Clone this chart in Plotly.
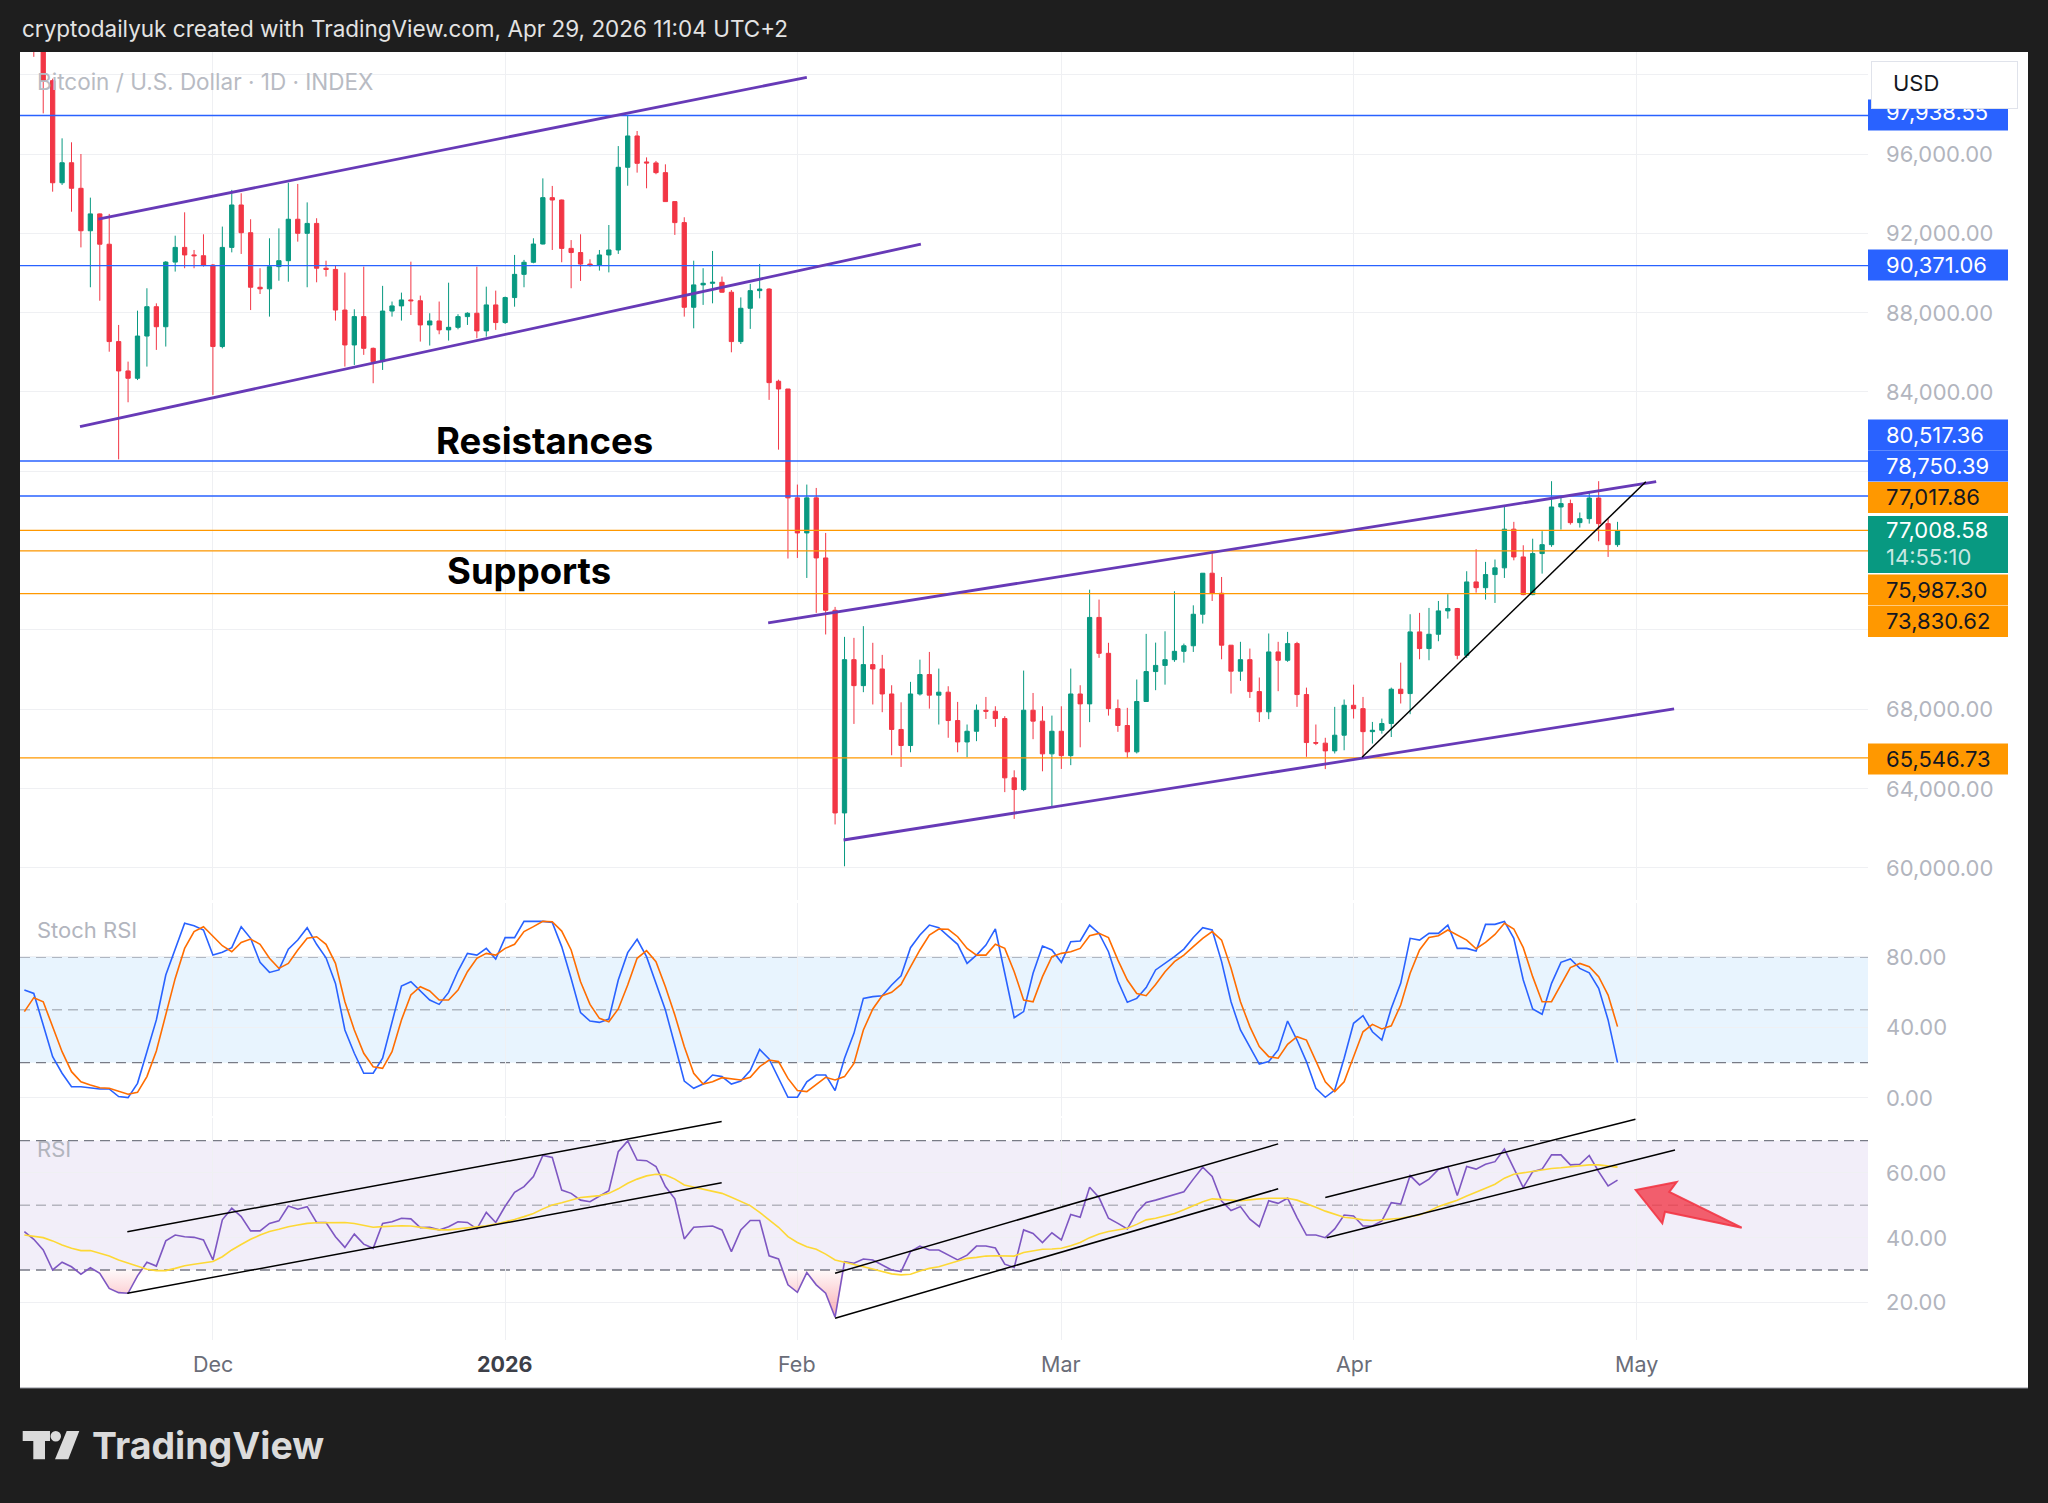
import numpy as np
import pandas as pd
import plotly.graph_objects as go

W, H = 2048, 1503

# ---------------- data ----------------
dates = pd.date_range("2025-11-11", "2026-04-29", freq="D")

opens = [105300, 103000, 101600, 99700, 94550, 95560, 94270, 92130, 92980, 91450,
         86540, 85060, 84690, 86820, 88300, 87290, 90550, 91290, 90910, 90870,
         90400, 86290, 91290, 93430, 92030, 89280, 89200, 90320, 90620, 92710,
         92000, 92500, 90240, 90180, 88130, 86370, 87800, 86200, 85530, 88080,
         88340, 88640, 88600, 87380, 87580, 87130, 87260, 87800, 87970, 87080,
         88390, 87500, 88760, 89930, 90540, 91460, 93800, 93680, 91240, 91030,
         90450, 90400, 90910, 91160, 95330, 96910, 95600, 95550, 95060, 93600,
         92540, 88270, 89400, 89480, 89530, 89030, 86540, 88220, 89110, 89190,
         84540, 84150, 78660, 76890, 78660, 75630, 72990, 62770, 70500, 69190,
         70250, 70030, 68770, 66980, 66170, 68770, 69750, 68710, 68860, 67430,
         66350, 66890, 67950, 67900, 67530, 64540, 63950, 67950, 67400, 65750,
         66890, 65660, 68770, 68270, 72630, 70820, 68030, 67180, 65850, 68390,
         69900, 70210, 70500, 70920, 71200, 72790, 74860, 73850, 71230, 69920,
         70500, 68890, 67870, 70890, 70470, 71310, 68740, 66320, 66290, 65900,
         66690, 68200, 68030, 66870, 66940, 67280, 69010, 68790, 71900, 71060,
         71780, 72960, 73080, 70720, 74420, 74130, 74790, 75130, 77080, 75680,
         73780, 75850, 76300, 78200, 78370, 77410, 77610, 78650, 77360, 76300]

highs = [106600, 105300, 104000, 99800, 96790, 96590, 96000, 93800, 93000, 92980,
         87380, 85530, 88100, 89230, 88470, 90600, 91880, 93060, 91160, 91950,
         90450, 92340, 94190, 94020, 92710, 90240, 91750, 92250, 94550, 94490,
         93560, 92760, 90620, 90400, 90020, 88170, 90320, 86240, 89350, 88560,
         89010, 90570, 88860, 87970, 88560, 89510, 87920, 88020, 90320, 89310,
         89110, 88810, 90910, 90660, 91750, 94770, 94390, 93700, 91660, 91950,
         90690, 91160, 92420, 96400, 97970, 97160, 95830, 95650, 95480, 93600,
         92810, 90620, 90240, 91110, 89820, 89140, 88770, 89450, 90450, 89230,
         84620, 84150, 79330, 79330, 79160, 76890, 73160, 71650, 71600, 72190,
         71350, 70740, 69210, 68350, 69380, 70500, 70890, 70050, 69160, 68370,
         67230, 68240, 68620, 68150, 67650, 64920, 69950, 68820, 68150, 67680,
         68150, 70050, 69210, 74030, 73530, 71350, 68490, 68070, 69500, 71800,
         71360, 71930, 73950, 71310, 73240, 74870, 75930, 74670, 71230, 71400,
         71060, 69600, 71820, 71400, 71900, 71400, 69090, 67230, 66560, 68120,
         68490, 69240, 68620, 67360, 67530, 69090, 70350, 72790, 72860, 73110,
         73460, 73800, 73110, 74960, 76070, 75430, 75550, 78250, 77450, 76270,
         76600, 76980, 79500, 78710, 78570, 77920, 78960, 79500, 77610, 77450]

lows = [102500, 100900, 98050, 94100, 94440, 93090, 91290, 89280, 88600, 86030,
        80600, 83480, 84600, 85280, 86120, 86290, 90070, 90240, 90240, 90320,
        83850, 86200, 91040, 90960, 88130, 88940, 87800, 89610, 89560, 91580,
        89280, 89530, 89820, 87600, 85280, 85360, 85870, 84440, 85110, 87800,
        87600, 87880, 86540, 86340, 86910, 86590, 87160, 87380, 86710, 86790,
        87130, 87430, 88300, 89280, 90490, 91440, 91160, 90540, 89230, 89600,
        90320, 90120, 90030, 90960, 94400, 95060, 94270, 94980, 93600, 91920,
        87800, 87210, 88390, 88470, 89010, 86000, 86420, 87180, 88720, 83600,
        81090, 75600, 75630, 74620, 72860, 71770, 62190, 60080, 67260, 68860,
        68240, 67850, 65680, 65090, 65830, 68690, 68030, 67230, 66560, 65830,
        65580, 66390, 67510, 67110, 63820, 62470, 63870, 66490, 64870, 63110,
        64990, 65180, 66080, 67350, 70590, 67680, 66860, 65550, 65770, 68370,
        68960, 69240, 70390, 70350, 70890, 72320, 73460, 70520, 68790, 69430,
        68570, 67360, 67500, 68910, 70390, 68120, 65600, 66190, 64980, 65770,
        65930, 67530, 65600, 66270, 66770, 66600, 68290, 67750, 70520, 70470,
        71430, 72570, 70520, 70590, 73880, 73530, 73360, 74620, 75510, 73750,
        73750, 74840, 76190, 77060, 77310, 77160, 77360, 76470, 75680, 76190]

closes = [103000, 101600, 99700, 94550, 95560, 94270, 92130, 92980, 91450, 86540,
          85060, 84690, 86820, 88300, 87290, 90550, 91290, 90910, 90870, 90400,
          86290, 91290, 93430, 92030, 89280, 89200, 90320, 90620, 92710, 92000,
          92500, 90240, 90180, 88130, 86370, 87800, 86200, 85530, 88080, 88340,
          88640, 88600, 87380, 87580, 87130, 87260, 87800, 87970, 87080, 88390,
          87500, 88760, 89930, 90540, 91460, 93800, 93680, 91240, 91030, 90450,
          90400, 90910, 91160, 95330, 96910, 95530, 95550, 95060, 93600, 92540,
          88270, 89400, 89480, 89530, 89030, 86540, 88220, 89110, 89190, 84470,
          84150, 78660, 76890, 78660, 75630, 72990, 62770, 70500, 69190, 70250,
          70030, 68770, 66980, 66170, 68770, 69750, 68710, 68860, 67430, 66350,
          66890, 67950, 67900, 67530, 64540, 63950, 67950, 67400, 65750, 66890,
          65660, 68770, 68270, 72630, 70820, 68030, 67180, 65850, 68390, 69900,
          70210, 70500, 70920, 71200, 72790, 74860, 73850, 71230, 69920, 70500,
          68890, 67870, 70890, 70470, 71310, 68740, 66320, 66290, 65900, 66690,
          68200, 68030, 66870, 66940, 67280, 69010, 68790, 71900, 71060, 71780,
          72960, 73080, 70720, 74420, 74130, 74790, 75130, 77080, 75680, 73780,
          75850, 76300, 78200, 78370, 77410, 77610, 78650, 77360, 76300, 77008.58]

stoch_k = [61.1, 59.2, 41.3, 23.4, 14.0, 6.4, 6.4, 5.8, 5.1, 5.1,
           0.8, 0.2, 8.3, 26.2, 44.2, 69.6, 84.7, 98.9, 97.5, 95.1,
           80.9, 82.5, 85.1, 97.0, 90.4, 76.8, 71.1, 72.5, 84.3, 89.4,
           96.4, 87.0, 79.4, 64.9, 38.5, 25.3, 14.0, 14.0, 22.5, 42.8,
           63.4, 65.8, 60.6, 55.5, 53.0, 59.8, 71.9, 81.9, 80.9, 84.7,
           78.7, 90.8, 90.8, 100, 100, 100, 99.4, 85.7, 67.7, 48.3,
           43.6, 42.8, 44.7, 66.8, 82.3, 89.8, 80.0, 64.9, 49.8, 30.0,
           9.6, 5.5, 7.9, 13.0, 12.1, 7.9, 9.6, 15.5, 27.5, 22.1,
           11.7, 0.4, 0.4, 9.2, 13.0, 13.0, 4.2, 22.5, 36.6, 56.4,
           57.4, 57.9, 64.0, 69.2, 85.1, 92.3, 97.9, 96.4, 91.7, 87.0,
           76.2, 80.9, 86.6, 95.7, 70.6, 45.5, 48.9, 70.6, 86.0, 83.8,
           76.8, 88.5, 88.9, 97.9, 93.2, 82.8, 66.2, 54.2, 56.4, 62.5,
           72.5, 76.2, 80.0, 84.3, 90.9, 96.4, 95.1, 77.2, 54.5, 38.5,
           28.7, 19.2, 20.6, 27.2, 43.6, 32.8, 20.6, 5.5, 0.4, 4.5,
           22.5, 42.3, 46.6, 37.5, 32.8, 50.8, 64.9, 90.4, 89.4, 93.2,
           93.2, 97.9, 84.7, 84.7, 83.2, 98.3, 98.3, 100, 90.4, 66.8,
           50.4, 47.4, 64.9, 76.8, 78.7, 73.4, 70.9, 62.1, 44.2, 20.0]

stoch_d = [48.9, 56.8, 54.5, 40.4, 26.2, 14.9, 9.2, 7.4, 5.8, 5.5,
           4.0, 2.1, 3.2, 12.1, 26.6, 47.0, 67.7, 84.7, 94.2, 97.0,
           91.3, 86.2, 82.8, 88.1, 90.0, 87.0, 79.1, 73.4, 76.2, 83.8,
           90.4, 91.3, 87.0, 76.2, 54.5, 38.5, 25.3, 17.7, 16.8, 26.2,
           44.2, 58.3, 63.0, 60.6, 55.5, 55.5, 61.1, 71.5, 79.1, 81.9,
           80.9, 84.7, 87.0, 94.2, 97.0, 100, 99.8, 94.5, 83.8, 65.8,
           53.0, 45.1, 43.2, 50.4, 64.0, 79.1, 83.4, 77.2, 63.0, 47.0,
           29.1, 14.0, 7.9, 9.2, 11.5, 10.8, 10.2, 11.7, 17.7, 21.5,
           20.6, 11.1, 4.2, 3.6, 7.4, 11.7, 10.2, 12.1, 19.6, 38.5,
           50.4, 57.9, 59.8, 64.3, 74.3, 83.8, 92.3, 95.7, 95.5, 91.3,
           84.7, 80.9, 80.9, 87.0, 84.7, 71.5, 55.5, 54.5, 68.7, 80.0,
           81.9, 82.8, 84.7, 91.9, 93.2, 90.8, 78.1, 66.8, 59.2, 57.9,
           64.3, 71.5, 77.2, 80.9, 85.7, 90.4, 94.2, 89.4, 73.4, 54.5,
           40.4, 29.1, 23.4, 22.5, 30.4, 34.7, 32.8, 20.6, 9.2, 3.6,
           9.2, 23.4, 37.5, 41.7, 39.1, 40.9, 52.6, 70.6, 83.8, 90.9,
           91.9, 95.1, 92.3, 89.4, 84.5, 88.1, 92.6, 98.9, 95.7, 85.1,
           68.7, 54.5, 54.5, 64.0, 73.8, 76.2, 74.3, 68.7, 58.3, 40.4]

rsi = [41.9, 39.5, 36.2, 30.0, 32.4, 31.0, 28.7, 30.7, 29.0, 24.3,
       23.0, 22.8, 28.2, 32.4, 31.2, 39.0, 40.8, 40.3, 40.1, 39.3,
       33.1, 45.5, 49.1, 46.5, 42.1, 42.1, 44.4, 45.2, 49.8, 48.8,
       49.6, 44.7, 44.7, 40.3, 37.0, 41.1, 38.0, 36.7, 44.4, 44.9,
       46.0, 45.8, 43.1, 43.2, 42.4, 43.4, 44.9, 44.7, 42.7, 47.8,
       44.7, 49.7, 54.0, 55.8, 58.9, 65.4, 64.8, 54.7, 53.7, 51.6,
       51.1, 52.9, 54.5, 66.6, 69.9, 64.0, 63.8, 62.0, 55.8, 52.0,
       39.6, 43.2, 43.4, 43.6, 42.4, 35.7, 42.4, 45.3, 45.3, 34.4,
       33.4, 25.4, 23.1, 29.2, 25.4, 22.8, 15.4, 32.6, 32.1, 33.4,
       33.1, 31.5, 30.0, 29.5, 35.7, 37.4, 36.2, 36.2, 34.6, 33.1,
       34.6, 37.4, 37.4, 36.8, 31.8, 30.8, 42.4, 41.3, 38.5, 41.5,
       39.3, 47.2, 46.3, 55.6, 52.4, 46.0, 44.4, 42.7, 47.8, 50.9,
       51.6, 52.4, 53.4, 54.2, 58.1, 61.8, 58.9, 51.3, 48.4, 49.6,
       45.7, 43.4, 51.4, 50.6, 52.2, 46.2, 40.8, 40.8, 40.0, 42.7,
       47.0, 46.7, 43.6, 43.6, 45.2, 50.8, 50.4, 59.2, 56.3, 58.1,
       61.1, 62.0, 53.0, 62.0, 61.2, 62.7, 63.5, 67.4, 61.4, 55.5,
       60.4, 61.2, 65.6, 65.6, 62.5, 62.7, 65.4, 60.4, 56.0, 57.8]

rsi_ma = [40.8, 40.3, 40.0, 39.0, 37.7, 36.7, 36.0, 36.0, 35.2, 34.3,
          33.1, 32.1, 31.0, 30.2, 29.8, 29.8, 30.5, 31.3, 31.8, 32.3,
          32.6, 34.1, 36.2, 37.9, 39.5, 40.8, 41.9, 42.6, 43.4, 43.9,
          44.4, 44.6, 44.6, 44.7, 44.7, 44.4, 43.7, 43.2, 43.4, 43.6,
          43.7, 43.6, 43.2, 42.9, 42.4, 42.4, 42.7, 42.9, 43.2, 43.7,
          44.2, 44.8, 45.6, 46.5, 47.5, 48.9, 50.1, 50.8, 51.6, 52.4,
          52.7, 53.0, 53.7, 55.1, 56.8, 58.1, 59.1, 59.6, 59.4, 58.1,
          56.3, 55.6, 55.1, 54.4, 53.7, 52.5, 51.3, 49.9, 47.8, 45.5,
          43.2, 40.3, 38.5, 37.2, 36.4, 34.9, 33.1, 32.4, 31.8, 31.0,
          30.3, 29.5, 28.8, 28.5, 28.7, 29.7, 30.5, 31.0, 31.8, 32.6,
          33.6, 33.9, 34.3, 34.4, 34.4, 34.3, 35.4, 36.0, 36.4, 36.5,
          36.7, 37.5, 38.5, 40.0, 41.1, 41.9, 42.4, 42.9, 44.1, 45.5,
          46.0, 46.8, 47.5, 48.6, 49.9, 51.1, 52.0, 51.9, 51.6, 51.4,
          51.8, 52.0, 52.2, 52.2, 52.2, 51.6, 50.6, 49.4, 48.2, 47.2,
          46.3, 46.0, 45.5, 45.3, 45.5, 45.8, 46.0, 46.5, 47.0, 48.2,
          49.6, 50.6, 51.6, 52.9, 54.2, 55.3, 56.5, 58.4, 59.6, 60.1,
          60.6, 60.9, 61.4, 61.6, 61.9, 62.0, 62.5, 62.5, 62.2, 61.8]

blue_levels = [97938.55, 90371.06, 80517.36, 78750.39]
orange_levels = [77017.86, 75987.30, 73830.62, 65546.73]
last_price = 77008.58
countdown = "14:55:10"

price_ticks = [60000, 64000, 68000, 72000, 76000, 80000, 84000, 88000, 92000, 96000, 100000]
# labels that the colored price tags do not cover
price_tick_labels = [60000, 64000, 68000, 84000, 88000, 92000, 96000]
stoch_ticks = [0, 40, 80]
rsi_ticks = [20, 40, 60]
month_ticks = ["2025-12-01", "2026-01-01", "2026-02-01", "2026-03-01", "2026-04-01", "2026-05-01"]
month_labels = ["Dec", "2026", "Feb", "Mar", "Apr", "May"]

# drawings (anchor points in chart coordinates)
purple_channels = [
    ("2025-11-18 20:10", 92722, "2026-02-02 00:00", 99870),
    ("2025-11-16 21:36", 82248, "2026-02-14 02:24", 91451),
    ("2026-01-28 21:36", 72350, "2026-05-03 02:24", 79475),
    ("2026-02-05 21:36", 61406, "2026-05-05 00:00", 68013),
]
black_trend = [("2026-04-01 21:36", 65577, "2026-05-02 00:00", 79475)]
rsi_trends = [
    ("2025-11-21 22:05", 41.85, "2026-01-23 23:17", 75.9),
    ("2025-11-21 22:05", 22.8, "2026-01-23 23:17", 57.0),
    ("2026-02-05 00:00", 29.0, "2026-03-24 00:00", 69.0),
    ("2026-02-05 00:00", 15.1, "2026-03-24 00:00", 55.1),
    ("2026-03-29 00:00", 52.4, "2026-04-30 21:36", 76.6),
    ("2026-03-29 03:36", 40.0, "2026-05-05 02:24", 67.1),
]

# ---------------- styling / layout helpers ----------------
UP, DN = "#089981", "#f23645"
BLUE, ORANGE, GREEN = "#2962ff", "#ff9800", "#089981"
GRID = "#eff0f3"
TICK = "#b2b5be"
FONT = "Inter"
LS = 22  # price-scale font size


def px(x):
    return x / W


def py(y):
    return 1 - y / H


def path(points):
    s = "M " + " L ".join(f"{px(x):.5f},{py(y):.5f}" for x, y in points)
    return s + " Z"


X0, X1 = px(20), px(1868)
x_range = ["2025-11-10 12:52", "2026-05-25 13:41"]

fig = go.Figure()

fig.add_trace(go.Candlestick(
    x=dates, open=opens, high=highs, low=lows, close=closes,
    increasing=dict(line=dict(color=UP, width=1), fillcolor=UP),
    decreasing=dict(line=dict(color=DN, width=1), fillcolor=DN),
    whiskerwidth=0, xaxis="x", yaxis="y", showlegend=False, hoverinfo="skip"))

fig.add_trace(go.Scatter(x=dates, y=stoch_k, mode="lines", line=dict(color="#2962ff", width=1.6),
                         xaxis="x2", yaxis="y2", hoverinfo="skip"))
fig.add_trace(go.Scatter(x=dates, y=stoch_d, mode="lines", line=dict(color="#ff6d00", width=1.6),
                         xaxis="x2", yaxis="y2", hoverinfo="skip"))

rsi_arr = np.array(rsi, dtype=float)
fig.add_trace(go.Scatter(x=dates, y=np.full(len(rsi_arr), 30.0), mode="lines",
                         line=dict(width=0, color="rgba(0,0,0,0)"), xaxis="x3", yaxis="y3", hoverinfo="skip"))
fig.add_trace(go.Scatter(x=dates, y=np.minimum(rsi_arr, 30.0), mode="lines",
                         line=dict(width=0, color="rgba(0,0,0,0)"), fill="tonexty",
                         fillgradient=dict(type="vertical", start=14, stop=30,
                                           colorscale=[[0, "rgba(242,54,69,0.45)"], [1, "rgba(242,54,69,0.03)"]]),
                         xaxis="x3", yaxis="y3", hoverinfo="skip"))
fig.add_trace(go.Scatter(x=dates, y=rsi, mode="lines", line=dict(color="#7e57c2", width=1.6),
                         xaxis="x3", yaxis="y3", hoverinfo="skip"))
fig.add_trace(go.Scatter(x=dates, y=rsi_ma, mode="lines", line=dict(color="#fdd835", width=1.6),
                         xaxis="x3", yaxis="y3", hoverinfo="skip"))

xaxis_common = dict(range=x_range, domain=[X0, X1], tickvals=month_ticks, showticklabels=False,
                    showgrid=True, gridcolor=GRID, gridwidth=1, zeroline=False, showline=False, ticks="",
                    type="date")
yaxis_common = dict(side="right", showticklabels=False, showgrid=True, gridcolor=GRID, gridwidth=1,
                    zeroline=False, showline=False, ticks="")

fig.update_layout(
    width=W, height=H, margin=dict(l=0, r=0, t=0, b=0),
    paper_bgcolor="#1e1e1e", plot_bgcolor="rgba(0,0,0,0)",
    showlegend=False, boxgap=0.35, hovermode=False,
    xaxis=dict(**xaxis_common, anchor="y", rangeslider=dict(visible=False)),
    xaxis2=dict(**xaxis_common, anchor="y2", matches="x"),
    xaxis3=dict(**xaxis_common, anchor="y3", matches="x"),
    yaxis=dict(**yaxis_common, domain=[py(900), py(52)], range=[58380, 101144], tickvals=price_ticks),
    yaxis2=dict(**yaxis_common, domain=[py(1116), py(903)], range=[-10.2, 110.4], tickvals=stoch_ticks),
    yaxis3=dict(**yaxis_common, domain=[py(1340), py(1118)], range=[8.35, 77.0], tickvals=rsi_ticks),
)

shapes = []
# white card
shapes.append(dict(type="rect", xref="paper", yref="paper", x0=px(20), x1=px(2028), y0=py(1388), y1=py(52),
                   fillcolor="#ffffff", line=dict(width=0), layer="below"))
shapes.append(dict(type="line", xref="paper", yref="paper", x0=px(20), x1=px(2028), y0=py(1388), y1=py(1388),
                   line=dict(color="#8a8d96", width=1), layer="below"))
# indicator bands
shapes.append(dict(type="rect", xref="x2 domain", yref="y2", x0=0, x1=1, y0=20, y1=80,
                   fillcolor="rgba(33,150,243,0.10)", line=dict(width=0), layer="below"))
shapes.append(dict(type="rect", xref="x3 domain", yref="y3", x0=0, x1=1, y0=30, y1=70,
                   fillcolor="rgba(126,87,194,0.10)", line=dict(width=0), layer="below"))
for yr, xr, lv, col in [("y2", "x2 domain", 80, "#787b86"), ("y2", "x2 domain", 20, "#787b86"),
                        ("y2", "x2 domain", 50, "rgba(120,123,134,0.5)"),
                        ("y3", "x3 domain", 70, "#787b86"), ("y3", "x3 domain", 30, "#787b86"),
                        ("y3", "x3 domain", 50, "rgba(120,123,134,0.5)")]:
    shapes.append(dict(type="line", xref=xr, yref=yr, x0=0, x1=1, y0=lv, y1=lv,
                       line=dict(color=col, width=1.4, dash="10px,6px"), layer="below"))
# horizontal levels
for lv in blue_levels:
    shapes.append(dict(type="line", xref="x domain", yref="y", x0=0, x1=1, y0=lv, y1=lv,
                       line=dict(color=BLUE, width=1.4), layer="above"))
for lv in orange_levels:
    shapes.append(dict(type="line", xref="x domain", yref="y", x0=0, x1=1, y0=lv, y1=lv,
                       line=dict(color=ORANGE, width=1.4), layer="above"))
# trend lines
for (xa, ya, xb, yb) in purple_channels:
    shapes.append(dict(type="line", xref="x", yref="y", x0=xa, y0=ya, x1=xb, y1=yb,
                       line=dict(color="#673ab7", width=2.8), layer="above"))
for (xa, ya, xb, yb) in black_trend:
    shapes.append(dict(type="line", xref="x", yref="y", x0=xa, y0=ya, x1=xb, y1=yb,
                       line=dict(color="#000000", width=1.5), layer="above"))
for (xa, ya, xb, yb) in rsi_trends:
    shapes.append(dict(type="line", xref="x3", yref="y3", x0=xa, y0=ya, x1=xb, y1=yb,
                       line=dict(color="#000000", width=1.5), layer="above"))
# red arrow
arrow_pts = [(1635.7, 1190), (1676.7, 1182), (1669.3, 1192), (1741.7, 1227.7), (1665, 1211.7), (1662.3, 1223.3)]
shapes.append(dict(type="path", xref="paper", yref="paper", path=path(arrow_pts),
                   fillcolor="rgba(242,54,69,0.78)", line=dict(color="rgba(242,54,69,0.9)", width=2),
                   layer="above"))

# price scale colored labels: (text, bg, fg, box centre y, box height, text centre y)
label_boxes = [
    (f"{blue_levels[0]:,.2f}", BLUE, "#ffffff", 115, 31, 112),
    (f"{blue_levels[1]:,.2f}", BLUE, "#ffffff", 265, 31, 265),
    (f"{blue_levels[2]:,.2f}", BLUE, "#ffffff", 435, 31, 435),
    (f"{blue_levels[3]:,.2f}", BLUE, "#ffffff", 466, 31, 466),
    (f"{orange_levels[0]:,.2f}", ORANGE, "#131722", 497.5, 31, 497.5),
    (f"{orange_levels[1]:,.2f}", ORANGE, "#131722", 590, 31, 590),
    (f"{orange_levels[2]:,.2f}", ORANGE, "#131722", 621.5, 31, 621.5),
    (f"{orange_levels[3]:,.2f}", ORANGE, "#131722", 759, 31, 759),
]
for _, bg, _, cy, h, _ in label_boxes:
    shapes.append(dict(type="rect", xref="paper", yref="paper", x0=px(1868), x1=px(2008),
                       y0=py(cy + h / 2), y1=py(cy - h / 2), fillcolor=bg, line=dict(width=0), layer="above"))
shapes.append(dict(type="rect", xref="paper", yref="paper", x0=px(1868), x1=px(2008),
                   y0=py(573), y1=py(516), fillcolor=GREEN, line=dict(width=0), layer="above"))

# TradingView logo icon
shapes.append(dict(type="path", xref="paper", yref="paper",
                   path=path([(22.7, 1431), (50, 1431), (50, 1441), (45, 1441), (45, 1459.3),
                              (33.3, 1459.3), (33.3, 1441), (22.7, 1441)]),
                   fillcolor="#dbdbdb", line=dict(width=0), layer="above"))
shapes.append(dict(type="circle", xref="paper", yref="paper", x0=px(50.5), x1=px(61), y0=py(1441.5), y1=py(1431),
                   fillcolor="#dbdbdb", line=dict(width=0), layer="above"))
shapes.append(dict(type="path", xref="paper", yref="paper",
                   path=path([(66.7, 1431), (79.3, 1431), (68.3, 1459.3), (55, 1459.3)]),
                   fillcolor="#dbdbdb", line=dict(width=0), layer="above"))

annotations = []


def txt(x, y, text, size=21, color=TICK, xanchor="left", xref="paper", yref="paper", **kw):
    annotations.append(dict(x=x, y=y, xref=xref, yref=yref, text=text, showarrow=False,
                            xanchor=xanchor, yanchor="middle",
                            font=dict(family=FONT, size=size, color=color), **kw))


txt(px(20), py(29), "cryptodailyuk created with TradingView.com, Apr 29, 2026 11:04 UTC+2", size=22.5, color="#e3e3e3")
txt(px(35), py(81.7), "Bitcoin / U.S. Dollar · 1D · INDEX", size=22.5, color="#b8bbc3")
txt(px(35), py(930), "Stoch RSI", size=22, color="#b2b5be")
txt(px(35), py(1149), "RSI", size=22, color="#b2b5be")
txt(px(544.5), py(441), "<b>Resistances</b>", size=36.5, color="#000000", xanchor="center")
txt(px(529), py(571), "<b>Supports</b>", size=36.5, color="#000000", xanchor="center")

for d, lab in zip(month_ticks, month_labels):
    if lab.isdigit():
        txt(d, py(1364), f"<b>{lab}</b>", size=21.5, color="#3d4049", xanchor="center", xref="x3")
    else:
        txt(d, py(1364), lab, size=21.5, color="#6a6d78", xanchor="center", xref="x3")

for v in price_tick_labels:
    txt(px(1884), v, f"{v:,.2f}", size=LS, color=TICK, yref="y")
for v in stoch_ticks:
    txt(px(1884), v, f"{v:.2f}", size=LS, color=TICK, yref="y2")
for v in rsi_ticks:
    txt(px(1884), v, f"{v:.2f}", size=LS, color=TICK, yref="y3")

for text, _, fg, _, _, ty in label_boxes:
    txt(px(1884), py(ty), text, size=LS, color=fg)
txt(px(1884), py(530), f"{last_price:,.2f}", size=LS, color="#ffffff")
txt(px(1884), py(557), countdown, size=LS, color="rgba(255,255,255,0.78)")

# USD box (drawn after labels so it covers the top label)
annotations.append(dict(x=px(1871), y=py(85), xref="paper", yref="paper", text=" ", showarrow=False,
                        xanchor="left", yanchor="middle", width=145, height=46, bgcolor="#ffffff",
                        bordercolor="#e0e3eb", borderwidth=1, borderpad=0,
                        font=dict(family=FONT, size=21, color="#131722")))
txt(px(1891), py(83), "USD", size=LS, color="#131722")

txt(px(90), py(1445), "<b>TradingView</b>", size=37.5, color="#dbdbdb")

fig.update_layout(shapes=shapes, annotations=annotations)

fig.write_html("out.html", config={"displayModeBar": False},
               post_script="document.body.style.margin='0';document.body.style.padding='0';"
                           "document.body.style.background='#1e1e1e';")
